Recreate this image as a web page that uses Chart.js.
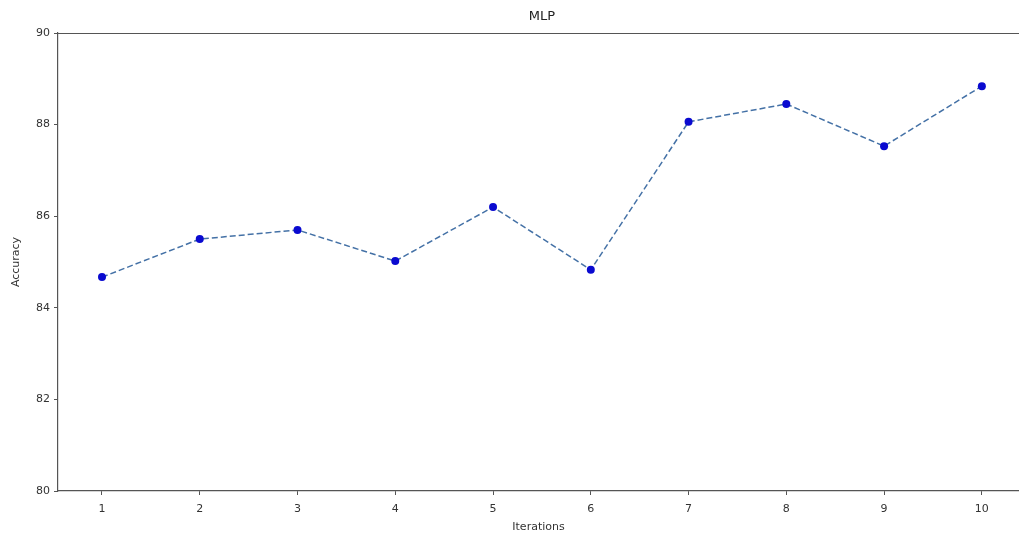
<!DOCTYPE html>
<html>
<head>
<meta charset="utf-8">
<script src="https://cdn.jsdelivr.net/npm/chart.js@4/dist/chart.umd.min.js"></script>
<style>
html,body{margin:0;padding:0;background:#fff;overflow:hidden;}
#wrap{width:1019px;height:534px;overflow:hidden;}
</style>
</head>
<body>
<div id="wrap"><canvas id="c" width="1023" height="534"></canvas></div>
<script>
const iterations = [1, 2, 3, 4, 5, 6, 7, 8, 9, 10];
const accuracy = [84.67, 85.50, 85.70, 85.02, 86.20, 84.83, 88.06, 88.45, 87.53, 88.84];
const yTicks = [80, 82, 84, 86, 88, 90];
const titleText = 'MLP';
const xLabel = 'Iterations';
const yLabel = 'Accuracy';

const FONT = 'DejaVu Sans';
const spineColor = '#555555';

const decor = {
  id: 'decor',
  afterDraw(chart) {
    const {ctx, chartArea} = chart;
    ctx.save();
    ctx.strokeStyle = spineColor;
    ctx.lineWidth = 1.2;
    ctx.beginPath();
    ctx.moveTo(chartArea.left, chartArea.top + 0.5);
    ctx.lineTo(chartArea.right + 5, chartArea.top + 0.5);
    ctx.stroke();
    const xs = chart.scales.x;
    const cx = xs.getPixelForValue((0.55 + 10.45) / 2);
    ctx.fillStyle = '#222';
    ctx.font = '13px "' + FONT + '"';
    ctx.textAlign = 'center';
    ctx.textBaseline = 'middle';
    ctx.fillText(titleText, cx, 17);
    ctx.restore();
  }
};

new Chart(document.getElementById('c'), {
  type: 'line',
  data: {
    datasets: [{
      data: iterations.map((x, i) => ({x: x, y: accuracy[i]})),
      borderColor: '#4471a6',
      borderWidth: 1.5,
      borderDash: [6, 3],
      pointRadius: 4,
      pointBackgroundColor: '#0a0ad0',
      pointBorderColor: '#0a0ad0',
      pointBorderWidth: 0,
      tension: 0,
      fill: false
    }]
  },
  options: {
    responsive: false,
    animation: false,
    layout: {padding: {left: 0, right: 0, top: 33, bottom: 0}},
    plugins: {
      legend: {display: false},
      tooltip: {enabled: false},
      title: {display: false}
    },
    scales: {
      x: {
        type: 'linear',
        min: 0.55,
        max: 10.38,
        afterBuildTicks(axis) { axis.ticks = iterations.map(v => ({value: v})); },
        afterFit(axis) { axis.height = 43; axis.paddingLeft = 0; axis.paddingRight = 0; },
        grid: {drawOnChartArea: false, drawTicks: true, tickLength: 4, color: spineColor, lineWidth: 1},
        border: {display: true, color: spineColor, width: 1.2},
        ticks: {color: '#333', font: {family: FONT, size: 11}, padding: 8, maxRotation: 0, autoSkip: false},
        title: {display: true, text: xLabel, color: '#333', font: {family: FONT, size: 11}, padding: {top: 0, bottom: 0}}
      },
      y: {
        type: 'linear',
        min: 80,
        max: 90,
        afterBuildTicks(axis) { axis.ticks = yTicks.map(v => ({value: v})); },
        afterFit(axis) { axis.width = 58; axis.paddingTop = 0; axis.paddingBottom = 0; },
        grid: {drawOnChartArea: false, drawTicks: true, tickLength: 4, color: spineColor, lineWidth: 1},
        border: {display: true, color: spineColor, width: 1.2},
        ticks: {color: '#333', font: {family: FONT, size: 11}, padding: 4},
        title: {display: true, text: yLabel, color: '#333', font: {family: FONT, size: 11}, padding: {top: 10, bottom: 4}}
      }
    }
  },
  plugins: [decor]
});
</script>
</body>
</html>
